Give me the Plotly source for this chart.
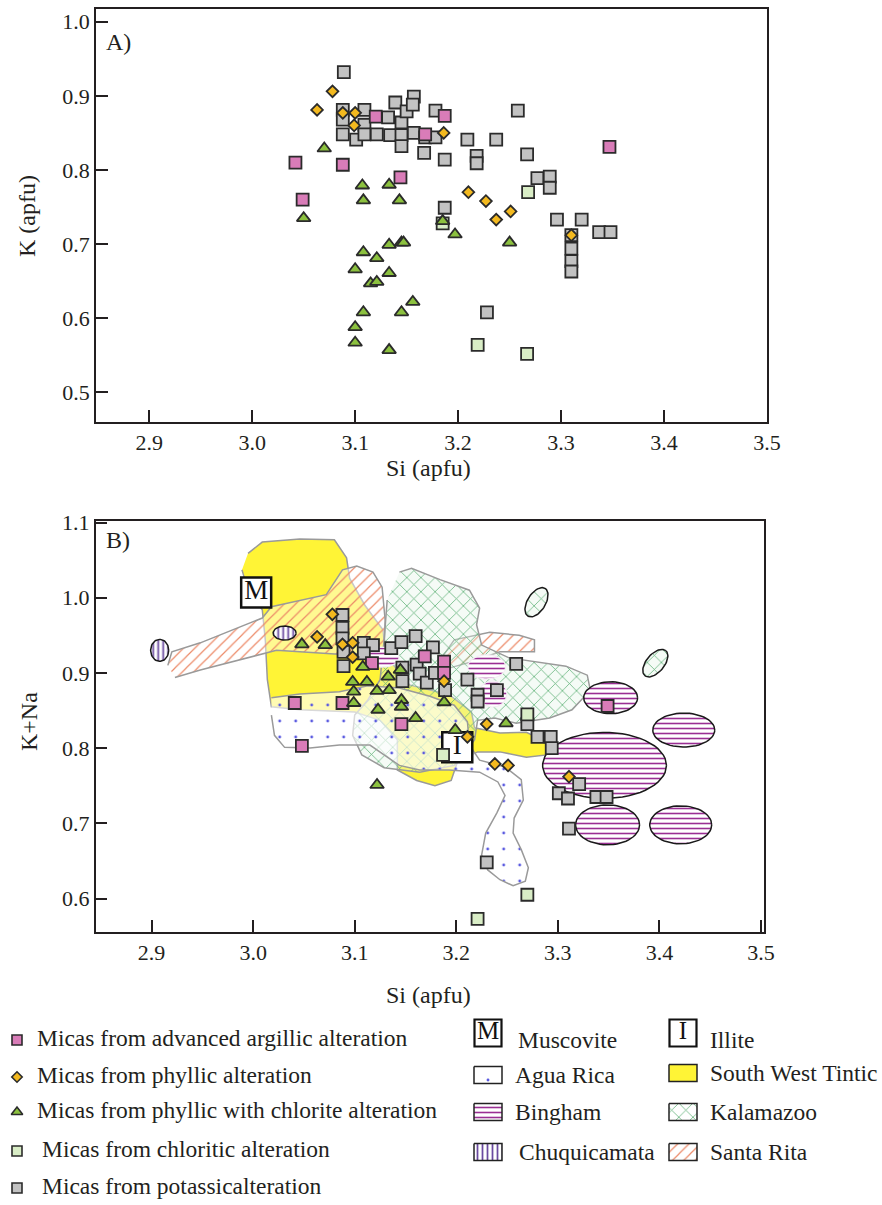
import numpy as np
import plotly.graph_objects as go

# ---------------- Panel A : K vs Si ----------------
a_argillic_si = [3.042, 3.049, 3.088, 3.120, 3.144, 3.168, 3.187, 3.347]
a_argillic_k = [0.810, 0.760, 0.807, 0.872, 0.790, 0.848, 0.873, 0.831]

a_phyllic_si = [3.078, 3.063, 3.088, 3.100, 3.099, 3.186, 3.210, 3.227, 3.237, 3.251, 3.310]
a_phyllic_k = [0.906, 0.881, 0.877, 0.877, 0.860, 0.850, 0.770, 0.758, 0.733, 0.744, 0.712]

a_phyl_chl_si = [3.070, 3.107, 3.133, 3.108, 3.143, 3.050, 3.185, 3.197, 3.250, 3.108, 3.133, 3.145,
                 3.147, 3.121, 3.100, 3.133, 3.115, 3.121, 3.108, 3.145, 3.156, 3.100, 3.100, 3.133]
a_phyl_chl_k = [0.829, 0.779, 0.780, 0.759, 0.759, 0.735, 0.731, 0.713, 0.702, 0.689, 0.699, 0.702,
                0.702, 0.681, 0.666, 0.661, 0.647, 0.649, 0.608, 0.608, 0.622, 0.588, 0.567, 0.557]

a_chloritic_si = [3.185, 3.268, 3.219, 3.267]
a_chloritic_k = [0.728, 0.770, 0.564, 0.552]

a_potassic_si = [3.089, 3.088, 3.088, 3.088, 3.109, 3.109, 3.101, 3.109, 3.121, 3.132, 3.134, 3.139,
                 3.145, 3.145, 3.145, 3.150, 3.157, 3.156, 3.157, 3.168, 3.167, 3.178, 3.178, 3.187,
                 3.187, 3.209, 3.218, 3.218, 3.237, 3.228, 3.258, 3.267, 3.277, 3.289, 3.289, 3.296,
                 3.320, 3.310, 3.310, 3.310, 3.310, 3.337, 3.348]
a_potassic_k = [0.932, 0.881, 0.868, 0.848, 0.881, 0.861, 0.841, 0.848, 0.848, 0.871, 0.847, 0.891,
                0.864, 0.847, 0.832, 0.879, 0.899, 0.888, 0.850, 0.844, 0.823, 0.880, 0.844, 0.814,
                0.749, 0.841, 0.819, 0.809, 0.841, 0.608, 0.880, 0.821, 0.789, 0.791, 0.776, 0.733,
                0.733, 0.712, 0.694, 0.677, 0.663, 0.716, 0.716]

# ---------------- Panel B : K+Na vs Si ----------------
b_argillic_si = [3.041, 3.088, 3.048, 3.117, 3.146, 3.169, 3.188, 3.188, 3.349]
b_argillic_kna = [0.860, 0.860, 0.803, 0.913, 0.832, 0.922, 0.915, 0.900, 0.856]

b_phyllic_si = [3.078, 3.063, 3.088, 3.098, 3.098, 3.188, 3.230, 3.211, 3.238, 3.251, 3.311]
b_phyllic_kna = [0.978, 0.948, 0.938, 0.940, 0.921, 0.889, 0.832, 0.815, 0.779, 0.777, 0.762]

b_phyl_chl_si = [3.048, 3.071, 3.108, 3.098, 3.112, 3.099, 3.099, 3.122, 3.134, 3.133, 3.145, 3.146,
                 3.146, 3.123, 3.160, 3.188, 3.199, 3.249, 3.122]
b_phyl_chl_kna = [0.938, 0.937, 0.908, 0.888, 0.888, 0.875, 0.860, 0.876, 0.877, 0.895, 0.904, 0.864,
                  0.855, 0.851, 0.840, 0.861, 0.824, 0.833, 0.751]

b_chloritic_si = [3.187, 3.270, 3.270, 3.221]
b_chloritic_kna = [0.791, 0.845, 0.605, 0.573]

b_potassic_si = [3.088, 3.088, 3.088, 3.089, 3.089, 3.109, 3.118, 3.109, 3.136, 3.146, 3.160, 3.177,
                 3.161, 3.147, 3.147, 3.164, 3.171, 3.179, 3.189, 3.211, 3.221, 3.221, 3.240, 3.259,
                 3.270, 3.280, 3.293, 3.294, 3.301, 3.310, 3.321, 3.338, 3.348, 3.311, 3.230]
b_potassic_kna = [0.977, 0.960, 0.946, 0.928, 0.909, 0.940, 0.937, 0.926, 0.933, 0.941, 0.949, 0.934,
                  0.911, 0.907, 0.889, 0.899, 0.887, 0.900, 0.877, 0.891, 0.871, 0.862, 0.877, 0.912,
                  0.832, 0.815, 0.815, 0.800, 0.740, 0.733, 0.752, 0.735, 0.735, 0.693, 0.648]

# reference minerals
muscovite_si, muscovite_kna = [3.003], [1.007]
illite_si, illite_kna = [3.201], [0.801]

# deposit fields (outlines)
tintic_si = [2.995, 3.009, 3.046, 3.080, 3.092, 3.095, 3.110, 3.128, 3.130, 3.154, 3.193, 3.215,
             3.218, 3.243, 3.269, 3.289, 3.289, 3.269, 3.243, 3.221, 3.201, 3.195, 3.179, 3.161,
             3.142, 3.142, 3.125, 3.100, 3.046, 3.018, 3.014, 3.012, 3.009, 2.995, 2.989]
tintic_kna = [1.059, 1.074, 1.078, 1.077, 1.053, 1.026, 0.990, 0.957, 0.924, 0.884, 0.871, 0.848,
              0.827, 0.820, 0.821, 0.808, 0.791, 0.788, 0.795, 0.795, 0.781, 0.757, 0.750, 0.757,
              0.771, 0.811, 0.837, 0.848, 0.851, 0.855, 0.891, 0.944, 0.984, 1.010, 1.037]

agua_rica_si = [3.018, 3.046, 3.085, 3.113, 3.144, 3.174, 3.198, 3.211, 3.213, 3.223, 3.248, 3.264,
                3.266, 3.257, 3.256, 3.264, 3.271, 3.268, 3.256, 3.243, 3.231, 3.225, 3.229, 3.240,
                3.248, 3.241, 3.223, 3.193, 3.164, 3.144, 3.115, 3.085, 3.056, 3.031, 3.021, 3.018]
agua_rica_kna = [0.867, 0.872, 0.875, 0.883, 0.880, 0.869, 0.857, 0.835, 0.804, 0.784, 0.775, 0.758,
                 0.731, 0.707, 0.687, 0.665, 0.641, 0.623, 0.617, 0.625, 0.638, 0.658, 0.687, 0.714,
                 0.737, 0.755, 0.768, 0.771, 0.771, 0.777, 0.804, 0.804, 0.800, 0.801, 0.817, 0.844]

santa_rita_si = [2.916, 2.920, 2.948, 3.009, 3.018, 3.072, 3.088, 3.102, 3.118, 3.127, 3.130, 3.129,
                 3.092, 3.046, 3.023, 2.948, 2.923, None,
                 3.184, 3.198, 3.233, 3.262, 3.277, 3.277, 3.243, 3.213, 3.192]
santa_rita_kna = [0.910, 0.928, 0.940, 0.973, 0.988, 1.004, 1.037, 1.042, 1.034, 1.014, 0.970, 0.930,
                  0.924, 0.928, 0.930, 0.904, 0.894, None,
                  0.917, 0.944, 0.954, 0.950, 0.944, 0.928, 0.928, 0.914, 0.906]

kalamazoo_si = [3.144, 3.156, 3.184, 3.213, 3.223, 3.220, 3.225, 3.252, 3.308, 3.329, 3.332, 3.314,
                3.292, 3.259, 3.238, 3.221, 3.218, 3.198, 3.164, 3.129, 3.107, 3.098, 3.100, 3.113,
                3.125, 3.129, 3.132]
kalamazoo_kna = [1.034, 1.039, 1.024, 1.010, 0.986, 0.964, 0.937, 0.920, 0.909, 0.897, 0.877, 0.851,
                 0.840, 0.833, 0.840, 0.837, 0.811, 0.777, 0.768, 0.774, 0.791, 0.817, 0.844, 0.864,
                 0.891, 0.944, 0.997]

# elliptical fields: centre Si, centre K+Na, half-width (Si), half-height (K+Na), tilt (deg)
kalamazoo_spot_si = [3.279, 3.396]
kalamazoo_spot_kna = [0.994, 0.913]
kalamazoo_spot_a = [0.0160, 0.0160]
kalamazoo_spot_b = [0.0120, 0.0120]
kalamazoo_spot_tilt = [58, 50]

bingham_open_si = [3.230, 3.236, 3.128]
bingham_open_kna = [0.908, 0.872, 0.921]
bingham_open_a = [0.0187, 0.0138, 0.0157]
bingham_open_b = [0.0160, 0.0173, 0.0133]

bingham_si = [3.352, 3.424, 3.346, 3.349, 3.421]
bingham_kna = [0.867, 0.824, 0.777, 0.698, 0.698]
bingham_a = [0.0265, 0.0305, 0.0610, 0.0315, 0.0305]
bingham_b = [0.0213, 0.0226, 0.0439, 0.0266, 0.0253]

chuqui_si = [2.908, 3.031]
chuqui_kna = [0.930, 0.953]
chuqui_a = [0.0089, 0.0113]
chuqui_b = [0.0146, 0.0093]

x_ticks = [2.9, 3.0, 3.1, 3.2, 3.3, 3.4, 3.5]
a_y_ticks = [0.5, 0.6, 0.7, 0.8, 0.9, 1.0]
b_y_ticks = [0.6, 0.7, 0.8, 0.9, 1.0, 1.1]

# ---------------- styles ----------------
FONT = "Liberation Serif"
INK = "#231f20"
EDGE = "#2b2b2b"
PINK = "#d97cb8"
GOLD = "#f3b91f"
LEAF = "#8cc13f"
PALE = "#d9edc6"
GREY = "#c2c2c2"
YELLOW = "#fff436"
FIELD_LINE = "#9a9a9a"
KEY_SIZE = 23.5

PX_X, PX_Y = 1017.0, 752.0  # panel B pixels per axis unit (keeps ellipses round on screen)


def ellipses(cx, cy, ax, by, tilt=None):
    t = np.linspace(0, 2 * np.pi, 60)
    xs, ys = [], []
    tilt = tilt or [0] * len(cx)
    for x0, y0, a, b, th in zip(cx, cy, ax, by, tilt):
        th = np.radians(th)
        u = a * PX_X * np.cos(t)
        v = b * PX_Y * np.sin(t)
        xs += list(x0 + (u * np.cos(th) - v * np.sin(th)) / PX_X) + [None]
        ys += list(y0 + (u * np.sin(th) + v * np.cos(th)) / PX_Y) + [None]
    return xs, ys


def field(x, y, line, lw, bg, pattern=None, xa="x2", ya="y2"):
    tr = go.Scatter(x=x, y=y, xaxis=xa, yaxis=ya, mode="lines", fill="toself",
                    fillcolor=bg, line=dict(color=line, width=lw),
                    hoverinfo="skip", showlegend=False)
    if pattern:
        tr.fillpattern = pattern
    return tr


pat_agua = dict(shape=".", fgcolor="#5a5ae0", bgcolor="rgba(255,255,255,0.62)", size=16, solidity=0.025)
pat_santa = dict(shape="/", fgcolor="#ec8a68", bgcolor="rgba(255,255,255,0.45)", size=8, solidity=0.15)
pat_kala = dict(shape="x", fgcolor="#62b27a", bgcolor="rgba(225,242,228,0.35)", size=10, solidity=0.15)
pat_bing = dict(shape="-", fgcolor="#9a2f94", bgcolor="white", size=5, solidity=0.32)
pat_chuq = dict(shape="|", fgcolor="#6a4aa0", bgcolor="white", size=5, solidity=0.35)

fig = go.Figure()


def points(x, y, symbol, color, size, xa, ya):
    fig.add_trace(go.Scatter(x=x, y=y, xaxis=xa, yaxis=ya, mode="markers",
                             marker=dict(symbol=symbol, color=color, size=size,
                                         line=dict(color=EDGE, width=1.8)),
                             showlegend=False))


# panel A markers
points(a_potassic_si, a_potassic_k, "square", GREY, 12, "x", "y")
points(a_chloritic_si, a_chloritic_k, "square", PALE, 12, "x", "y")
points(a_argillic_si, a_argillic_k, "square", PINK, 12, "x", "y")
points(a_phyl_chl_si, a_phyl_chl_k, "triangle-up", LEAF, 12, "x", "y")
points(a_phyllic_si, a_phyllic_k, "diamond", GOLD, 9, "x", "y")

# panel B fields
fig.add_trace(field(tintic_si, tintic_kna, FIELD_LINE, 1.5, YELLOW))
fig.add_trace(field(santa_rita_si, santa_rita_kna, FIELD_LINE, 1.5, "rgba(255,255,255,0.45)", pat_santa))
fig.add_trace(field(kalamazoo_si, kalamazoo_kna, FIELD_LINE, 1.5, "rgba(225,242,228,0.35)", pat_kala))
fig.add_trace(field(agua_rica_si, agua_rica_kna, FIELD_LINE, 1.5, "rgba(255,255,255,0.62)", pat_agua))
ex, ey = ellipses(bingham_open_si, bingham_open_kna, bingham_open_a, bingham_open_b)
fig.add_trace(field(ex, ey, "#f4eef4", 1.2, "white", pat_bing))
ex, ey = ellipses(bingham_si, bingham_kna, bingham_a, bingham_b)
fig.add_trace(field(ex, ey, "#1a1a1a", 1.5, "white", pat_bing))
ex, ey = ellipses(chuqui_si, chuqui_kna, chuqui_a, chuqui_b)
fig.add_trace(field(ex, ey, "#1a1a1a", 1.5, "white", pat_chuq))
ex, ey = ellipses(kalamazoo_spot_si, kalamazoo_spot_kna, kalamazoo_spot_a, kalamazoo_spot_b, kalamazoo_spot_tilt)
fig.add_trace(field(ex, ey, "#1a1a1a", 1.5, "white", pat_kala))

# reference minerals
for sx, sy, lab in [(muscovite_si, muscovite_kna, "M"), (illite_si, illite_kna, "I")]:
    fig.add_trace(go.Scatter(x=sx, y=sy, xaxis="x2", yaxis="y2", mode="markers+text",
                             text=[lab], textposition="middle center",
                             textfont=dict(family=FONT, size=27, color="#111"),
                             marker=dict(symbol="square", size=30, color="white",
                                         line=dict(color="#111", width=2.5)),
                             showlegend=False))

# panel B markers
points(b_potassic_si, b_potassic_kna, "square", GREY, 12, "x2", "y2")
points(b_chloritic_si, b_chloritic_kna, "square", PALE, 12, "x2", "y2")
points(b_argillic_si, b_argillic_kna, "square", PINK, 12, "x2", "y2")
points(b_phyl_chl_si, b_phyl_chl_kna, "triangle-up", LEAF, 12, "x2", "y2")
points(b_phyllic_si, b_phyllic_kna, "diamond", GOLD, 9, "x2", "y2")

# ---------------- key (drawn on a hidden pixel-scaled axis) ----------------
key_rows = [1040, 1077, 1112, 1151, 1188]
key_marks = [("square", PINK, 10), ("diamond", GOLD, 8), ("triangle-up", LEAF, 10),
             ("square", PALE, 10), ("square", GREY, 10)]
key_text = ["Micas from advanced argillic alteration", "Micas from phyllic alteration",
            "Micas from phyllic with chlorite alteration", "Micas from chloritic alteration",
            "Micas from potassicalteration"]
key_text_x = [35, 35, 35, 40, 40]
for yy, (sym, col, sz) in zip(key_rows, key_marks):
    fig.add_trace(go.Scatter(x=[17], y=[yy], xaxis="x3", yaxis="y3", mode="markers",
                             marker=dict(symbol=sym, color=col, size=sz, line=dict(color=EDGE, width=1.6)),
                             showlegend=False, hoverinfo="skip"))

annotations = []
for tx, yy, lab in zip(key_text_x, key_rows, key_text):
    annotations.append(dict(x=tx, y=yy - 2, xref="x3", yref="y3", text=lab, showarrow=False,
                            xanchor="left", yanchor="middle", font=dict(size=KEY_SIZE)))


def rect(cx, cy, w=28, h=17):
    return ([cx - w / 2, cx + w / 2, cx + w / 2, cx - w / 2, cx - w / 2],
            [cy - h / 2, cy - h / 2, cy + h / 2, cy + h / 2, cy - h / 2])


swatches = [(488, 1075, "white", pat_agua, "Agua Rica", 513),
            (488, 1112, "white", pat_bing, "Bingham", 513),
            (488, 1152, "white", pat_chuq, "Chuquicamata", 517),
            (683, 1073, YELLOW, None, "South West Tintic", 708),
            (683, 1112, "white", pat_kala, "Kalamazoo", 708),
            (683, 1152, "white", pat_santa, "Santa Rita", 708)]
for cx, cy, bg, pat, lab, tx in swatches:
    rx, ry = rect(cx, cy)
    p = dict(pat, bgcolor="white") if pat else None
    fig.add_trace(field(rx, ry, "#222", 1.5, bg, p, "x3", "y3"))
    annotations.append(dict(x=tx, y=cy, xref="x3", yref="y3", text=lab, showarrow=False,
                            xanchor="left", yanchor="middle", font=dict(size=KEY_SIZE)))

for cx, lab, name, tx in [(488, "M", "Muscovite", 516), (683, "I", "Illite", 708)]:
    fig.add_trace(go.Scatter(x=[cx], y=[1033], xaxis="x3", yaxis="y3", mode="markers+text",
                             text=[lab], textposition="middle center",
                             textfont=dict(family=FONT, size=25, color="#111"),
                             marker=dict(symbol="square", size=27, color="white",
                                         line=dict(color="#111", width=2.2)),
                             showlegend=False, hoverinfo="skip"))
    annotations.append(dict(x=tx, y=1040, xref="x3", yref="y3", text=name, showarrow=False,
                            xanchor="left", yanchor="middle", font=dict(size=KEY_SIZE)))

# panel labels and axis titles
annotations += [
    dict(x=104, y=42, xref="x3", yref="y3", text="A)", showarrow=False, xanchor="left", yanchor="middle",
         font=dict(size=24)),
    dict(x=104, y=540, xref="x3", yref="y3", text="B)", showarrow=False, xanchor="left", yanchor="middle",
         font=dict(size=24)),
    dict(x=428, y=468, xref="x3", yref="y3", text="Si (apfu)", showarrow=False, font=dict(size=24)),
    dict(x=428, y=995, xref="x3", yref="y3", text="Si (apfu)", showarrow=False, font=dict(size=24)),
    dict(x=27, y=216, xref="x3", yref="y3", text="K (apfu)", showarrow=False, textangle=-90,
         font=dict(size=24)),
    dict(x=29, y=722, xref="x3", yref="y3", text="K+Na", showarrow=False, textangle=-90,
         font=dict(size=24)),
]

H = 1205.0
W = 882.0
axis_style = dict(showline=True, mirror=True, linecolor=INK, linewidth=1.5, ticks="inside",
                  ticklen=12, tickwidth=1.5, tickcolor=INK, showgrid=False, zeroline=False,
                  tickfont=dict(size=22, color=INK), tickmode="array", automargin=False)
hidden = dict(visible=False, fixedrange=True, automargin=False, showgrid=False, zeroline=False)

fig.update_layout(
    template="none",
    width=882, height=1205,
    autosize=False,
    margin=dict(l=0, r=0, t=0, b=0, pad=0),
    paper_bgcolor="white", plot_bgcolor="rgba(0,0,0,0)",
    font=dict(family=FONT, color=INK),
    showlegend=False,
    annotations=annotations,
    xaxis=dict(axis_style, domain=[96 / W, 767 / W], anchor="y", range=[2.8483, 3.5],
               tickvals=x_ticks, ticktext=[f"{v:.1f}" for v in x_ticks]),
    yaxis=dict(axis_style, domain=[1 - 422 / H, 1 - 9.3 / H], anchor="x", range=[0.460, 1.0167],
               tickvals=a_y_ticks, ticktext=[f"{v:.1f}" for v in a_y_ticks]),
    xaxis2=dict(axis_style, domain=[95.7 / W, 764 / W], anchor="y2", range=[2.845, 3.503],
                tickvals=x_ticks, ticktext=[f"{v:.1f}" for v in x_ticks]),
    yaxis2=dict(axis_style, domain=[1 - 931.7 / H, 1 - 521 / H], anchor="x2", range=[0.5559, 1.102],
                tickvals=b_y_ticks, ticktext=[f"{v:.1f}" for v in b_y_ticks]),
    xaxis3=dict(hidden, domain=[0, 1], anchor="y3", range=[0, W]),
    yaxis3=dict(hidden, domain=[0, 1], anchor="x3", range=[H, 0]),
)

# pin the figure to the page corner so the 882x1205 window shows it 1:1
pin = ("document.documentElement.style.margin='0';document.body.style.margin='0';"
       "document.body.style.overflow='hidden';"
       "var d=document.getElementById('{plot_id}');"
       "d.style.position='absolute';d.style.left='0px';d.style.top='0px';")

fig.write_html("out.html", config={"responsive": False, "displayModeBar": False}, post_script=pin)
